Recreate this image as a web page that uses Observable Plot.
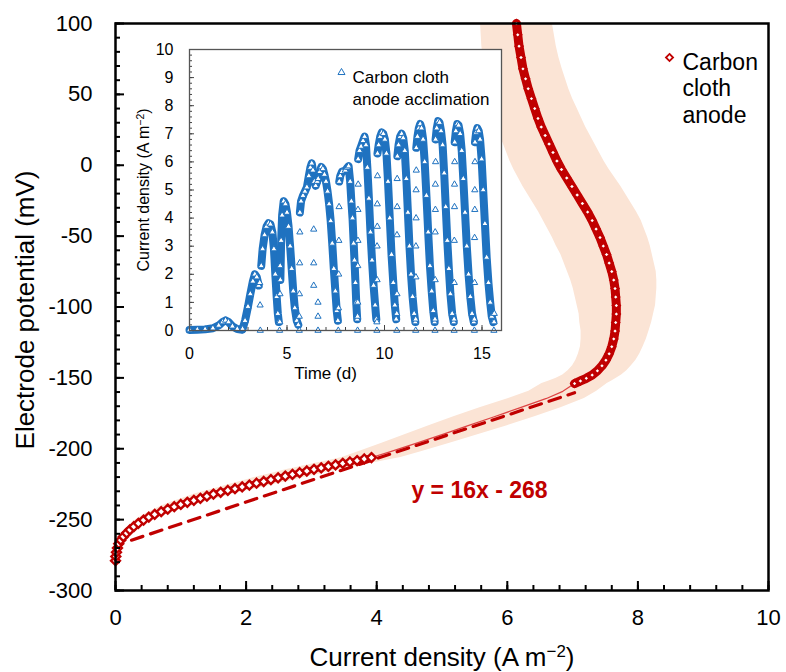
<!DOCTYPE html>
<html><head><meta charset="utf-8">
<script src="https://cdn.jsdelivr.net/npm/d3@7"></script>
<script src="https://cdn.jsdelivr.net/npm/@observablehq/plot@0.6"></script>
<style>
body{margin:0;background:#fff;}
#wrap{position:relative;width:786px;height:672px;}
#inset{position:absolute;left:120px;top:38px;}
svg{overflow:visible;}
</style></head><body><div id="wrap"><div id="main"></div><div id="inset"></div></div>
<script>
const FONT = '"Liberation Sans", Arial, Helvetica, sans-serif';
const RED = "#c00000", BAND = "#fbe4d5", BLUE = "#1f72c0";

// ---- Main chart: polarization curve (current density A m-2 vs potential mV)
const lowX = [0,0.005,0.015,0.03,0.05,0.08,0.12,0.17,0.22,0.28,0.35,0.43,0.51,0.6,0.7,0.8,0.9,1.0,1.1,1.2,1.3,1.4,1.5,1.61,1.72,1.83,1.94,2.05,2.16,2.27,2.38,2.49,2.6,2.71,2.82,2.93,3.04,3.15,3.26,3.37,3.48,3.59,3.7,3.81,3.92];
const lowY = [-279,-276,-273,-270,-267,-264.5,-262,-259.5,-257.2,-255,-252.6,-250.3,-248.3,-246.3,-244.4,-242.6,-240.9,-239.3,-237.8,-236.4,-235,-233.5,-232,-230.7,-229.4,-228.2,-226.9,-225.6,-224.3,-223.1,-221.8,-220.5,-219.3,-218.1,-216.9,-215.7,-214.5,-213.5,-212.4,-211.4,-210.3,-209.3,-208.3,-207.2,-206.2];
const lowErr = [0.02,0.02,0.02,0.02,0.03,0.03,0.04,0.05,0.06,0.08,0.1,0.12,0.14,0.16,0.18,0.2,0.22,0.24,0.25,0.26,0.27,0.28,0.29,0.3,0.31,0.32,0.33,0.34,0.35,0.36,0.37,0.38,0.38,0.39,0.39,0.4,0.4,0.41,0.41,0.42,0.42,0.43,0.43,0.44,0.45];

const midX = [4.2,4.6,5.0,5.4,5.8,6.2,6.6,6.85];
const midY = [-202.2,-196.2,-190,-183.7,-177.4,-171,-164.5,-159.5];
const midErr = [0.48,0.52,0.56,0.6,0.62,0.62,0.58,0.52];

const upX = [7.03,7.12,7.21,7.3,7.38,7.45,7.51,7.56,7.6,7.63,7.65,7.66,7.67,7.67,7.66,7.65,7.63,7.6,7.56,7.52,7.47,7.42,7.36,7.3,7.23,7.15,7.07,6.99,6.91,6.83,6.76,6.7,6.64,6.58,6.52,6.47,6.42,6.37,6.32,6.28,6.24,6.21,6.18,6.16,6.14];
const upY = [-154,-152.2,-150.3,-148,-145,-141.5,-137.5,-133,-128,-122.5,-117,-111,-105,-99,-93,-87,-81,-75,-69,-63,-57,-51,-45,-39,-33,-27,-21,-15,-9,-3,3,9,15,21,27,33,40,47,54,61,68,76,84,92,100];
const upErr = [0.5,0.48,0.46,0.45,0.45,0.45,0.46,0.47,0.48,0.5,0.52,0.55,0.57,0.6,0.62,0.64,0.66,0.68,0.69,0.7,0.72,0.73,0.74,0.75,0.75,0.75,0.75,0.75,0.74,0.73,0.72,0.71,0.7,0.69,0.68,0.67,0.65,0.63,0.62,0.61,0.6,0.58,0.57,0.56,0.55];

const trendX = [0.245, 7.03];
const trendY = [-264.5, -160.5];

const xTicks = [0,2,4,6,8,10];
const yTicks = [-300,-250,-200,-150,-100,-50,0,50,100];
const xTitle = "Current density (A m⁻²)";
const yTitle = "Electrode potential (mV)";
const legendText = "Carbon\ncloth\nanode";
const eqText = "y = 16x - 268";

// ---- Inset: acclimation (time d vs current density A m-2)
const cycle00 = [[0,0.02],[0.4,0.03],[0.8,0.04],[1.2,0.08],[1.5,0.18],[1.7,0.3],[1.85,0.36],[2.0,0.3],[2.2,0.15],[2.45,0.05],[2.7,0.03]];
const cycle01 = [[2.72,0.05],[2.85,0.35],[3.0,0.85],[3.12,1.3],[3.25,1.75],[3.35,2.0],[3.45,1.9],[3.55,1.6]];
const cycle02 = [[3.68,2.3],[3.75,2.9],[3.85,3.4],[3.95,3.7],[4.05,3.82],[4.15,3.78],[4.25,3.5],[4.33,2.9],[4.4,2.0],[4.47,1.2],[4.53,0.6],[4.58,0.3]];
const cycle03 = [[4.66,1.8],[4.7,3.2],[4.75,4.1],[4.83,4.6],[4.92,4.5],[5.0,4.2],[5.08,3.7],[5.16,3.0],[5.24,2.2],[5.32,1.4],[5.4,0.8],[5.5,0.35],[5.58,0.2]];
const cycle04 = [[5.66,4.2],[5.72,4.6],[5.82,4.8],[5.92,4.95],[6.02,5.1],[6.12,5.5],[6.2,5.8],[6.27,5.95],[6.33,5.7],[6.4,5.3],[6.47,5.15],[6.55,5.3]];
const cycle05 = [[6.6,5.4],[6.68,5.65],[6.76,5.82],[6.84,5.75],[6.92,5.55],[7.0,5.3],[7.08,4.95],[7.16,4.5],[7.24,3.9],[7.32,3.1],[7.4,2.2],[7.48,1.4],[7.55,0.7],[7.61,0.35]];
const cycle06 = [[7.68,5.3],[7.73,5.5],[7.82,5.65],[7.99,5.7],[8.1,5.8],[8.16,5.85],[8.24,5.3],[8.3,4.6],[8.36,4.0],[8.42,3.1],[8.46,2.5],[8.51,1.7],[8.55,1.0],[8.6,0.4]];
const cycle07 = [[8.65,6.1],[8.72,6.4],[8.8,6.55],[8.9,6.75],[8.98,6.9],[9.05,6.6],[9.12,5.8],[9.2,4.7],[9.28,3.5],[9.36,2.5],[9.44,1.6],[9.52,0.9],[9.58,0.4]];
const cycle08 = [[9.64,6.3],[9.7,6.6],[9.78,6.9],[9.86,7.05],[9.94,7.0],[10.02,6.8],[10.1,6.3],[10.18,5.3],[10.27,4.0],[10.36,2.7],[10.45,1.7],[10.53,0.9],[10.6,0.4]];
const cycle09 = [[10.66,6.2],[10.72,6.6],[10.8,6.9],[10.88,7.0],[10.96,6.85],[11.04,6.4],[11.12,5.4],[11.2,4.2],[11.28,3.0],[11.36,2.0],[11.44,1.2],[11.52,0.6],[11.58,0.3]];
const cycle10 = [[11.63,6.5],[11.69,6.9],[11.76,7.2],[11.83,7.35],[11.9,7.2],[11.98,6.8],[12.06,6.0],[12.15,4.8],[12.24,3.5],[12.33,2.3],[12.42,1.4],[12.5,0.7],[12.57,0.3]];
const cycle11 = [[12.62,6.8],[12.68,7.2],[12.75,7.45],[12.82,7.4],[12.9,7.1],[12.98,6.6],[13.06,5.6],[13.14,4.4],[13.22,3.2],[13.3,2.2],[13.38,1.3],[13.47,0.6],[13.55,0.3]];
const cycle12 = [[13.6,6.7],[13.66,7.1],[13.73,7.35],[13.8,7.3],[13.88,7.0],[13.96,6.4],[14.04,5.4],[14.13,4.2],[14.22,3.0],[14.31,2.0],[14.4,1.2],[14.49,0.6],[14.58,0.3]];
const cycle13 = [[14.64,6.7],[14.7,7.05],[14.76,7.2],[14.83,7.1],[14.9,6.8],[14.98,6.1],[15.06,5.0],[15.15,3.8],[15.24,2.6],[15.33,1.7],[15.42,1.0],[15.5,0.5],[15.58,0.3]];
const transients = [[3.6,1.7],[3.62,0.9],[3.63,0],[4.62,0],[4.63,0.3],[4.64,1.3],[4.65,2.3],[5.63,0],[5.63,0.5],[5.64,1.3],[5.65,2.4],[5.66,3.5],[6.37,1.6],[6.37,2.4],[6.37,3.6],[6.59,0],[6.59,0.5],[6.59,1.0],[7.63,0],[7.64,0.8],[7.65,2.0],[7.66,3.2],[7.67,4.4],[8.62,0],[8.62,0.5],[8.63,1.0],[8.63,2.3],[8.64,3.2],[8.64,4.3],[8.65,5.2],[9.61,0],[9.61,0.3],[9.62,1.8],[9.62,3.0],[9.63,3.7],[9.63,4.5],[9.64,5.5],[10.63,0],[10.63,0.6],[10.64,1.3],[10.64,3.4],[10.65,4.4],[10.65,5.4],[11.6,0],[11.6,0.4],[11.61,1.9],[11.61,3.0],[11.62,4.0],[11.62,5.0],[11.63,5.7],[12.59,0],[12.59,0.4],[12.6,1.8],[12.6,3.5],[12.61,4.3],[12.61,5.2],[12.62,6.0],[13.57,0],[13.57,0.4],[13.58,1.7],[13.58,3.2],[13.59,4.4],[13.59,5.2],[13.6,6.0],[14.61,0],[14.61,0.4],[14.62,1.7],[14.62,3.3],[14.63,4.3],[14.63,5.0],[14.64,6.0],[15.61,0],[15.62,0.3],[15.63,0.6]];
const insetXTicks = [0,5,10,15];
const insetYTicks = [0,1,2,3,4,5,6,7,8,9,10];
const insetXTitle = "Time (d)";
const insetYTitle = "Current density (A m⁻²)";
const insetLegend = "Carbon cloth\nanode acclimation";

// ---- build tables
const rows = (X, Y, E) => X.map((x, i) => ({x, y: Y[i], e: E ? E[i] : 0}));
const lowRows = rows(lowX, lowY, lowErr);
const midRows = rows(midX, midY, midErr);
const upRows = rows(upX, upY, upErr);
const allRows = lowRows.concat(midRows, upRows);
const bandRows = allRows.map(d => ({y: d.y, lo: d.x - d.e, hi: d.x + d.e}));
const trendRows = rows(trendX, trendY);
const cycles = [cycle00,cycle01,cycle02,cycle03,cycle04,cycle05,cycle06,cycle07,cycle08,cycle09,cycle10,cycle11,cycle12,cycle13];
const cycRows = cycles.flatMap((c, k) => c.map(([t, v]) => ({t, v, c: k})));
const transRows = transients.map(([t, v]) => ({t, v}));

const fw = 786 - 115 - 18, fh = 672 - 23 - 82;
const range = (a, b, s) => d3.range(a, b + s / 2, s);

const main = Plot.plot({
  width: 786, height: 672,
  marginLeft: 115, marginRight: 18, marginTop: 23, marginBottom: 82,
  style: {fontFamily: FONT, background: "white", color: "black", overflow: "visible"},
  x: {domain: [0, 10]},
  y: {domain: [-300, 100]},
  marks: [
    Plot.areaX(bandRows, {y: "y", x1: "lo", x2: "hi", fill: BAND, clip: true}),
    Plot.line(allRows, {x: "x", y: "y", stroke: "#d44", strokeWidth: 1.2}),
    Plot.line(trendRows, {x: "x", y: "y", stroke: RED, strokeWidth: 3.2, strokeDasharray: "12,8"}),
    Plot.line(lowRows, {x: "x", y: "y", stroke: RED, strokeWidth: 6}),
    Plot.line(upRows, {x: "x", y: "y", stroke: RED, strokeWidth: 9}),
    Plot.dot(lowRows, {x: "x", y: "y", symbol: "diamond2", r: 4, stroke: RED, fill: "white", strokeWidth: 2.4}),
    Plot.dot(upRows, {x: "x", y: "y", symbol: "diamond2", r: 3, stroke: RED, fill: "white", strokeWidth: 2.4}),
    Plot.tickY(range(-300, 100, 10), {y: d => d, insetRight: fw - 5, stroke: "black", strokeWidth: 2}),
    Plot.tickY(yTicks, {y: d => d, insetRight: fw - 9, stroke: "black", strokeWidth: 2}),
    Plot.tickX(range(0, 10, 0.4), {x: d => d, insetTop: fh - 5, stroke: "black", strokeWidth: 2}),
    Plot.tickX(xTicks, {x: d => d, insetTop: fh - 9, stroke: "black", strokeWidth: 2}),
    Plot.axisX({ticks: xTicks, tickSize: 0, tickPadding: 19, fontSize: 22, tickFormat: d => String(d), label: null}),
    Plot.axisY({ticks: yTicks, tickSize: 0, tickPadding: 23, fontSize: 22, tickFormat: d => String(d), label: null}),
    Plot.frame({stroke: "black", strokeWidth: 2.5}),
    Plot.text([xTitle], {frameAnchor: "bottom", dy: 67, fontSize: 26, textAnchor: "middle", lineAnchor: "middle"}),
    Plot.text([yTitle], {frameAnchor: "left", dx: -90, dy: 3, rotate: -90, fontSize: 26, textAnchor: "middle", lineAnchor: "middle"}),
    Plot.dot([0], {frameAnchor: "top-left", dx: 554, dy: 34, symbol: "diamond2", r: 3.2, stroke: RED, fill: "white", strokeWidth: 1.8}),
    Plot.text([legendText], {frameAnchor: "top-left", dx: 567, dy: 27.5, textAnchor: "start", lineAnchor: "top", fontSize: 23, lineHeight: 1.15}),
    Plot.text([eqText], {frameAnchor: "top-left", dx: 364, dy: 467, fill: RED, fontWeight: "bold", fontSize: 23, textAnchor: "middle", lineAnchor: "middle"})
  ]
});

const ifw = 312, ifh = 281;
const inset = Plot.plot({
  width: 383, height: 342,
  marginLeft: 69, marginRight: 2, marginTop: 11, marginBottom: 50,
  style: {fontFamily: FONT, background: "transparent", color: "black", overflow: "visible"},
  x: {domain: [0, 16]},
  y: {domain: [0, 10]},
  marks: [
    Plot.frame({fill: "white"}),
    Plot.line(cycRows, {x: "t", y: "v", z: "c", stroke: BLUE, strokeWidth: 8}),
    Plot.dot(cycRows.concat(transRows), {x: "t", y: "v", symbol: "triangle", r: 2.3, stroke: BLUE, fill: "white", strokeWidth: 1}),
    Plot.tickY(range(0, 10, 0.2), {y: d => d, insetRight: ifw - 3, stroke: "#444", strokeWidth: 1}),
    Plot.tickY(insetYTicks, {y: d => d, insetRight: ifw - 5, stroke: "#444", strokeWidth: 1}),
    Plot.tickX(range(0, 16, 1), {x: d => d, insetTop: ifh - 3, stroke: "#444", strokeWidth: 1}),
    Plot.tickX(insetXTicks, {x: d => d, insetTop: ifh - 5, stroke: "#444", strokeWidth: 1}),
    Plot.frame({stroke: "#555", strokeWidth: 1.3}),
    Plot.axisX({ticks: insetXTicks, tickSize: 0, tickPadding: 17, fontSize: 16, tickFormat: d => String(d), label: null}),
    Plot.axisY({ticks: insetYTicks, tickSize: 0, tickPadding: 16, fontSize: 16, tickFormat: d => String(d), label: null}),
    Plot.text([insetXTitle], {frameAnchor: "bottom-left", dx: 136, dy: 43, fontSize: 17, textAnchor: "middle", lineAnchor: "middle"}),
    Plot.text([insetYTitle], {frameAnchor: "left", dx: -46, dy: 0, rotate: -90, fontSize: 16, textAnchor: "middle", lineAnchor: "middle"}),
    Plot.dot([0], {frameAnchor: "top-left", dx: 152, dy: 23, symbol: "triangle", r: 2.6, stroke: BLUE, fill: "white", strokeWidth: 1}),
    Plot.text([insetLegend], {frameAnchor: "top-left", dx: 163, dy: 19, textAnchor: "start", lineAnchor: "top", fontSize: 17, lineHeight: 1.24})
  ]
});

function superscript(svg) {
  d3.select(svg).selectAll("text").each(function () {
    const t = this.textContent;
    const i = t.indexOf("⁻²");
    if (i < 0 || this.querySelector("tspan")) return;
    const sel = d3.select(this);
    sel.text(null);
    sel.append("tspan").text(t.slice(0, i));
    sel.append("tspan").attr("baseline-shift", "super").attr("font-size", "65%").text("−2");
    sel.append("tspan").text(t.slice(i + 2));
  });
}
superscript(main);
superscript(inset);
document.getElementById("main").appendChild(main);
document.getElementById("inset").appendChild(inset);
</script></body></html>
